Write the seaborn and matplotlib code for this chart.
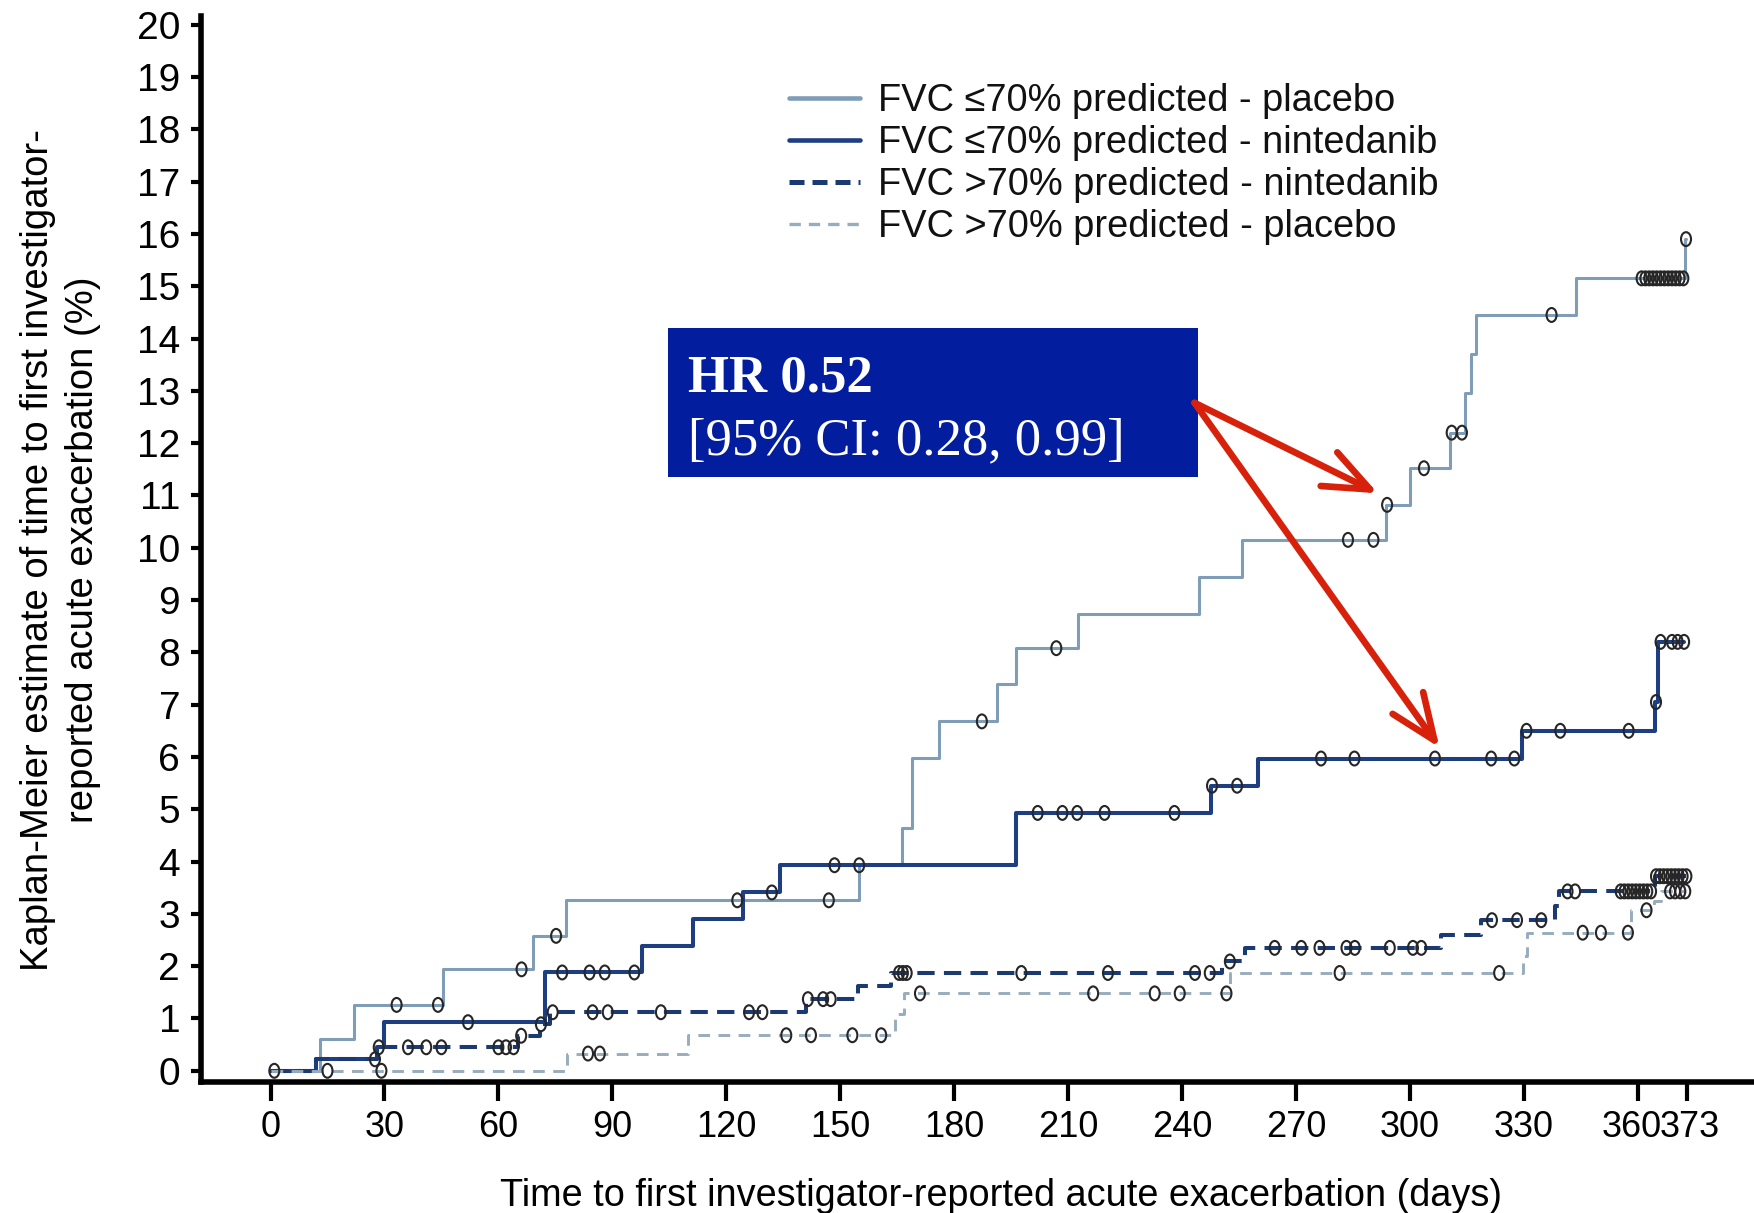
import numpy as np
import pandas as pd
import matplotlib
matplotlib.use("Agg")
import matplotlib.pyplot as plt
import seaborn as sns
from matplotlib.markers import MarkerStyle
from matplotlib.transforms import Affine2D, ScaledTranslation
from matplotlib.lines import Line2D
from matplotlib.patches import Rectangle

# ---------------- data ----------------
group_names = [
    "FVC \u226470% predicted - placebo",
    "FVC \u226470% predicted - nintedanib",
    "FVC >70% predicted - nintedanib",
    "FVC >70% predicted - placebo",
]

# FVC <=70% placebo: event step times (days) and cumulative incidence (%)
le70_pbo_t = [0, 13, 22, 45.3, 69, 77.8, 155, 166.4, 169.0, 175.9, 191.3, 196.3,
              212.6, 244.4, 255.7, 293.7, 300.1, 310.5, 314.6, 316.0, 317.3, 343.7, 372.5]
le70_pbo_v = [0, 0.60, 1.26, 1.94, 2.58, 3.26, 3.94, 4.64, 5.98, 6.68, 7.39, 8.08,
              8.74, 9.45, 10.15, 10.82, 11.52, 12.20, 12.95, 13.70, 14.45, 15.15, 15.90]
le70_pbo_c = [33.2, 44.1, 66.1, 75.2, 122.9, 147.0, 187.3, 206.9, 283.7, 290.4, 294.0,
              303.7, 311.0, 313.7, 337.3, 361.0, 362.0, 363.0, 364.0, 365.0, 366.0,
              367.0, 368.0, 369.0, 370.0, 371.0, 372.0, 372.7]

# FVC <=70% nintedanib
le70_nin_t = [0, 12, 28, 30, 72.2, 97.7, 111.3, 124.3, 134.2, 196.2, 247.7, 260.0,
              329.5, 364.5, 365.3]
le70_nin_v = [0, 0.22, 0.45, 0.93, 1.88, 2.39, 2.90, 3.41, 3.93, 4.93, 5.45, 5.97,
              6.50, 7.05, 8.20]
le70_nin_c = [52.0, 76.8, 84.0, 88.0, 95.8, 132.0, 148.5, 155.0, 202.0, 208.5, 212.4,
              219.6, 238.0, 247.9, 254.5, 276.6, 285.4, 306.6, 321.4, 327.5, 330.7,
              339.6, 357.6, 364.8, 366.0, 369.0, 370.5, 372.2]

# FVC >70% nintedanib
gt70_nin_t = [0, 12, 28, 65.2, 71.0, 73.5, 141.0, 154.7, 163.5, 250.4, 256.5, 308.3,
              318.8, 338.2, 339.3, 364.5]
gt70_nin_v = [0, 0.22, 0.45, 0.67, 0.89, 1.12, 1.37, 1.62, 1.87, 2.09, 2.35, 2.60,
              2.88, 3.15, 3.43, 3.72]
gt70_nin_c = [27.5, 28.5, 36.2, 41.0, 45.0, 60.0, 62.0, 64.0, 66.0, 71.2, 74.3, 84.8,
              88.8, 102.8, 126.0, 129.5, 141.5, 145.5, 147.5, 165.5, 166.5, 167.5,
              197.7, 220.5, 243.4, 247.3, 252.6, 264.4, 271.4, 276.2, 283.3, 285.5,
              294.7, 300.8, 303.0, 321.6, 328.2, 334.6, 341.5, 343.5, 355.5, 356.5,
              357.5, 358.5, 359.5, 360.5, 361.5, 362.5, 363.5, 364.8, 365.8, 366.8,
              367.8, 368.8, 369.8, 370.8, 371.8, 372.8]

# FVC >70% placebo
gt70_pbo_t = [0, 78.0, 110.0, 164.4, 166.8, 252.6, 329.8, 330.7, 358.3, 364.4, 366.0]
gt70_pbo_v = [0, 0.33, 0.68, 1.09, 1.48, 1.87, 2.20, 2.64, 3.07, 3.25, 3.43]
gt70_pbo_c = [1.0, 15.0, 29.2, 83.6, 86.7, 135.8, 142.3, 153.2, 160.8, 171.0, 216.6,
              232.8, 239.4, 251.7, 281.5, 323.5, 345.5, 350.3, 357.4, 362.3, 368.5,
              369.8, 371.2, 372.5]

x_ticks = [0, 30, 60, 90, 120, 150, 180, 210, 240, 270, 300, 330, 360, 373]
y_ticks = list(range(0, 21))

hr_title = "HR 0.52"
hr_ci = "[95% CI: 0.28, 0.99]"
x_label = "Time to first investigator-reported acute exacerbation (days)"
y_label = "Kaplan-Meier estimate of time to first investigator-\nreported acute exacerbation (%)"

# ---------------- styles ----------------
colors = ["#7f9db6", "#1d3f82", "#1b3a72", "#97acbc"]
lws = [2.2, 2.9, 2.9, 2.1]
lstyles = ["-", "-", (0, (4.3, 2.3)), (0, (4.0, 2.9))]

series = [
    (le70_pbo_t, le70_pbo_v, le70_pbo_c),
    (le70_nin_t, le70_nin_v, le70_nin_c),
    (gt70_nin_t, gt70_nin_v, gt70_nin_c),
    (gt70_pbo_t, gt70_pbo_v, gt70_pbo_c),
]

sns.set_style("ticks")
plt.rcParams["font.family"] = ["Liberation Sans", "DejaVu Sans"]

fig = plt.figure(figsize=(17.54, 12.13), dpi=100)
ax = fig.add_axes([0.1146, 0.108, 0.8854, 0.879])

cens_marker = MarkerStyle("o", transform=Affine2D().scale(0.72, 1.0))

# draw in reverse so dark lines sit on top of the light ones
order = [3, 0, 2, 1]
for i in order:
    t, v, c = series[i]
    x = list(t) + [max(c)]
    y = list(v) + [v[-1]]
    df = pd.DataFrame({"day": x, "pct": y})
    sns.lineplot(data=df, x="day", y="pct", ax=ax, drawstyle="steps-post",
                 estimator=None, sort=False, color=colors[i], linewidth=lws[i],
                 linestyle=lstyles[i], legend=False, zorder=2 + i * 0.1)

for i in order:
    t, v, c = series[i]
    t_arr = np.asarray(t)
    v_arr = np.asarray(v)
    idx = np.searchsorted(t_arr, np.asarray(c), side="right") - 1
    cdf = pd.DataFrame({"day": c, "pct": v_arr[idx]})
    sns.scatterplot(data=cdf, x="day", y="pct", ax=ax, marker=cens_marker, s=100,
                    facecolors="none", edgecolors="#262626", linewidths=1.5,
                    legend=False, zorder=4)

# axes
ax.set_xlim(-18.3, 390.6)
ax.set_ylim(-0.214, 20.17)
ax.set_xticks(x_ticks)
ax.set_yticks(y_ticks)
ax.set_xticklabels([str(t) for t in x_ticks])
for sp in ["top", "right"]:
    ax.spines[sp].set_visible(False)
for sp in ["left", "bottom"]:
    ax.spines[sp].set_linewidth(4.0)
    ax.spines[sp].set_color("black")
ax.tick_params(axis="x", direction="out", length=14, width=3, pad=6,
               labelsize=26, colors="black")
ax.tick_params(axis="y", direction="out", length=7, width=3, pad=8,
               labelsize=28, colors="black")
ax.grid(False)

# the last two x tick labels sit side by side ("360373") as in the reference
xtl = ax.get_xticklabels()
xtl[-2].set_transform(xtl[-2].get_transform() + ScaledTranslation(-6 / 100, 0, fig.dpi_scale_trans))
xtl[-1].set_transform(xtl[-1].get_transform() + ScaledTranslation(3 / 100, 0, fig.dpi_scale_trans))

ax.set_xlabel(x_label, fontsize=27.3, color="black")
ax.xaxis.set_label_coords(0.5149, -0.090)
ax.xaxis.label.set_va("top")
ax.set_ylabel(y_label, fontsize=27.5, color="black", linespacing=1.29,
              multialignment="center")
ax.yaxis.label.set_va("center")
ax.yaxis.set_label_coords(-0.0905, 0.499)

# legend
handles = [
    Line2D([], [], color=colors[0], lw=3.3, linestyle="-"),
    Line2D([], [], color=colors[1], lw=3.3, linestyle="-"),
    Line2D([], [], color=colors[2], lw=3.6, linestyle=(0, (3.0, 1.6))),
    Line2D([], [], color=colors[3], lw=2.4, linestyle=(0, (3.4, 2.4))),
]
leg = ax.legend(handles, group_names, loc="upper left",
                bbox_to_anchor=(0.3786, 0.937), frameon=False, fontsize=27.4,
                handlelength=1.86, handletextpad=0.48, labelspacing=0.16,
                borderpad=0, borderaxespad=0)
for txt in leg.get_texts():
    txt.set_color("#111111")

# HR annotation box
ax.add_patch(Rectangle((104.6, 11.36), 139.6, 2.84, facecolor="#031d9f",
                       edgecolor="none", zorder=5))
ax.text(109.9, 12.98, hr_title, color="white", fontsize=38, fontweight="bold",
        family=["Liberation Serif", "DejaVu Serif"], va="baseline", ha="left",
        zorder=6)
ax.text(109.9, 11.79, hr_ci, color="white", fontsize=38,
        family=["Liberation Serif", "DejaVu Serif"], va="baseline", ha="left",
        zorder=6)

arrow_kw = dict(arrowstyle="->,head_length=1.1,head_width=0.45", color="#d8210b",
                lw=4.8, mutation_scale=30, shrinkA=0, shrinkB=0)
ax.annotate("", xy=(291.6, 11.04), xytext=(243.3, 12.77), arrowprops=arrow_kw,
            zorder=7)
ax.annotate("", xy=(307.8, 6.18), xytext=(243.3, 12.77), arrowprops=arrow_kw,
            zorder=7)

fig.savefig("out.png", dpi=100)
